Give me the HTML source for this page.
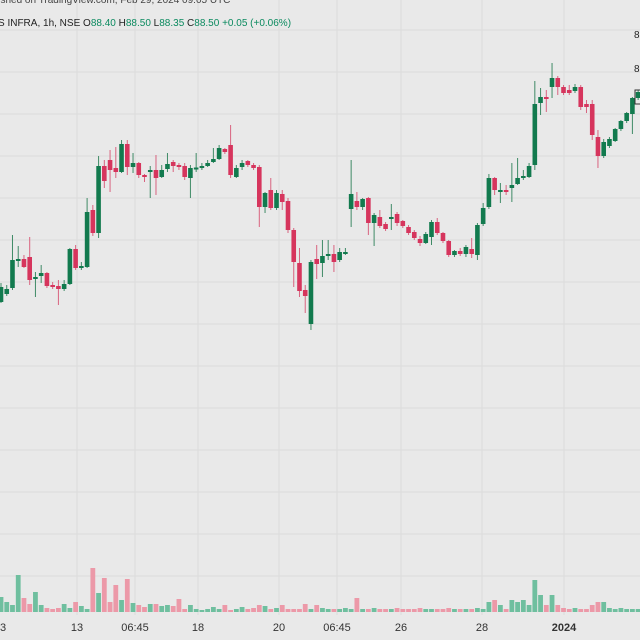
<!DOCTYPE html>
<html><head><meta charset="utf-8"><style>
html,body{margin:0;padding:0;background:#e9e9e9;}
svg{display:block;font-family:"Liberation Sans",sans-serif;}
</style></head><body>
<svg id="chart" width="640" height="640" viewBox="0 0 640 640" xmlns="http://www.w3.org/2000/svg">
<rect x="0" y="0" width="640" height="640" fill="#e9e9e9"/>
<g id="grid"></g>
<g id="vol"></g>
<g id="candles"></g>
<g id="xaxis"></g>
<text x="-4" y="3" font-size="10" fill="#444">lished on TradingView.com, Feb 29, 2024 09:05 UTC</text>
<text x="-2" y="26" font-size="10" fill="#222">S INFRA, 1h, NSE <tspan fill="#222">O</tspan><tspan fill="#0b8a5f">88.40</tspan> <tspan fill="#222">H</tspan><tspan fill="#0b8a5f">88.50</tspan> <tspan fill="#222">L</tspan><tspan fill="#0b8a5f">88.35</tspan> <tspan fill="#222">C</tspan><tspan fill="#0b8a5f">88.50</tspan> <tspan fill="#0b8a5f">+0.05 (+0.06%)</tspan></text>
<text x="634" y="38" font-size="10" fill="#222">8</text>
<text x="634" y="72" font-size="10" fill="#222">8</text>
<rect x="635" y="90" width="8" height="14" fill="none" stroke="#333" stroke-width="1"/>
</svg>
<script>
const opens=[69.8,70.6,71.2,74.0,74.1,74.3,72.1,72.4,72.7,71.5,71.4,71.1,71.6,75.1,73.3,73.3,79.0,76.7,83.4,84.0,83.2,82.8,85.6,83.3,83.7,82.5,82.9,83.0,82.3,83.1,83.8,83.5,83.4,82.2,83.2,83.2,83.4,83.8,84.1,85.1,85.5,82.3,83.3,83.9,83.5,83.3,79.3,81.0,79.2,80.6,79.9,77.0,73.7,71.0,67.6,74.1,73.7,74.4,74.6,74.0,74.7,79.1,79.9,79.3,80.2,77.7,78.3,77.6,78.2,78.6,77.9,77.3,76.8,76.1,75.7,76.3,77.8,76.7,75.9,74.5,74.9,74.6,75.1,74.5,77.6,79.3,82.2,80.9,81.0,81.2,81.6,82.2,82.3,83.5,89.7,90.3,91.3,92.2,91.3,91.0,90.9,91.3,89.6,89.6,86.3,84.4,85.4,85.9,87.1,87.9,88.6,90.2];
const closes=[71.3,71.1,74.0,74.1,73.3,72.0,72.3,72.7,71.4,71.4,71.1,71.6,75.1,73.2,73.4,78.8,76.7,83.4,81.9,83.0,82.8,85.6,83.3,83.7,82.5,82.3,83.0,82.2,83.0,83.6,83.4,83.4,82.3,83.2,83.25,83.4,83.7,84.1,85.2,84.8,82.5,83.2,83.7,83.5,83.2,79.3,80.7,79.2,80.7,79.8,77.0,73.8,70.9,70.4,73.8,73.6,74.4,74.6,73.8,74.8,74.8,80.6,79.3,80.1,77.7,78.5,77.4,77.1,78.3,77.7,77.4,76.7,76.2,75.7,76.6,77.8,76.7,75.9,74.5,74.9,74.6,75.3,74.6,77.5,79.2,82.2,81.0,81.0,80.8,81.5,82.2,82.4,83.4,89.6,90.3,90.2,92.2,91.3,90.7,90.7,91.3,89.3,89.3,86.5,84.4,85.8,86.1,87.1,87.9,88.7,90.2,90.8];
const highs=[71.7,71.5,76.5,75.4,74.5,76.3,72.8,73.5,72.8,71.8,72.0,72.0,75.2,75.5,73.8,80.2,79.5,84.4,84.0,85.0,85.3,86.0,86.0,84.7,83.8,82.6,83.4,84.5,83.5,84.7,84.0,83.7,83.7,83.5,84.7,83.7,84.0,85.2,85.5,85.2,87.5,83.5,84.0,84.0,83.7,83.5,80.8,82.2,81.0,81.0,80.2,77.2,75.2,71.5,74.0,75.5,76.0,76.0,75.5,75.2,75.2,84.0,80.8,80.2,80.3,78.7,79.0,77.8,79.6,78.8,78.0,77.5,77.0,76.4,76.8,78.0,78.2,76.8,76.0,75.0,75.2,75.5,76.2,77.7,79.7,82.6,82.3,81.7,81.5,83.7,84.2,83.0,83.7,91.9,91.2,91.0,93.7,92.4,91.5,91.5,91.6,91.5,90.0,90.0,87.0,86.1,86.3,87.2,88.0,88.8,90.3,91.0];
const lows=[69.7,70.4,71.0,73.3,73.2,71.5,70.3,71.7,71.2,71.1,69.5,70.9,71.5,73.0,73.0,73.2,76.4,76.2,81.2,80.8,82.2,82.7,82.5,82.7,82.2,81.8,80.2,80.5,82.2,82.8,82.8,83.0,82.0,80.2,82.8,83.0,83.3,83.7,84.0,84.6,82.2,82.2,83.0,83.3,83.0,77.3,78.7,79.0,79.0,79.0,76.7,71.3,70.3,68.7,67.0,72.1,72.3,74.0,72.8,73.8,74.5,77.3,79.0,79.0,76.5,75.4,77.2,76.9,77.0,77.4,77.2,76.5,76.0,75.4,75.6,75.5,76.5,75.7,74.3,74.3,74.4,74.3,74.2,74.0,77.4,79.1,80.5,79.7,80.5,79.8,81.5,82.0,82.2,83.0,88.5,88.8,90.2,90.5,90.5,90.5,90.7,89.0,88.7,86.0,83.2,84.2,85.2,85.8,86.9,87.7,86.6,90.0];
const volumes=[15,10,7,37,14,8,20,7,4,3,4,8,4,10,6,3,44,19,34,10,27,12,33,9,7,5,8,8,6,7,6,13,3,7,3,2,3,5,3,7,2,3,5,3,4,7,6,3,4,7,3,3,3,8,3,7,4,3,3,3,4,3,14,3,3,4,3,3,3,4,3,3,3,4,3,3,3,3,4,3,3,3,3,4,3,10,12,7,3,12,10,12,7,32,17,7,17,7,4,3,4,3,3,7,10,10,4,3,4,3,3,3];
const timeLabels=["3","13","06:45","18","20","06:45","26","28","2024"];
const timeLabelX=[0,77,135,198,279,337,401,482,564];

const NS="http://www.w3.org/2000/svg";
function mk(tag,attrs,parent){const e=document.createElementNS(NS,tag);for(const k in attrs)e.setAttribute(k,attrs[k]);parent.appendChild(e);return e;}
function xOf(i){return 1+i*5.74;}
function yOf(p){return (100-p)*10;}
const VOL_BASE=612, VOL_SCALE=1.0;
function yVol(v){return VOL_BASE-v*VOL_SCALE;}

const grid=document.getElementById('grid');
for(let y=30;y<610;y+=42){
  const l=mk('line',{x1:0,x2:640,y1:y,y2:y,stroke:'#dcdcdc','stroke-width':1},grid);
  
  
}
timeLabelX.forEach((x,i)=>{
  if(i===0)return;
  const l=mk('line',{x1:x,x2:x,y1:0,y2:615,stroke:'#dcdcdc','stroke-width':1},grid);
  
  
});

const cg=document.getElementById('candles'), vg=document.getElementById('vol');
for(let i=0;i<opens.length;i++){
  const up=closes[i]>=opens[i];
  const col=up?'#127a4e':'#d6355d';
  const x=xOf(i);
  const g=mk('g',{},cg);
  
  
  mk('line',{x1:x,x2:x,y1:yOf(highs[i]),y2:yOf(lows[i]),stroke:up?'#3f8a66':'#d8637f','stroke-width':1},g);
  const top=Math.min(yOf(opens[i]),yOf(closes[i]));
  const h=Math.max(2,Math.abs(yOf(opens[i])-yOf(closes[i])));
  mk('rect',{x:x-2.3,y:top,width:4.6,height:h,fill:col},g);
  const vb=mk('rect',{x:x-2.4,y:yVol(volumes[i]),width:4.8,height:volumes[i]*VOL_SCALE,fill:up?'#6fbf9f':'#ec99a8'},vg);
  
  
}
const xa=document.getElementById('xaxis');
timeLabels.forEach((t,i)=>{
  const tx=mk('text',{x:timeLabelX[i],y:631,'font-size':11,fill:'#333','text-anchor':i===0?'start':'middle','font-weight':t==='2024'?'bold':'normal'},xa);
  tx.textContent=t;
  
  
});
</script>
</body></html>
